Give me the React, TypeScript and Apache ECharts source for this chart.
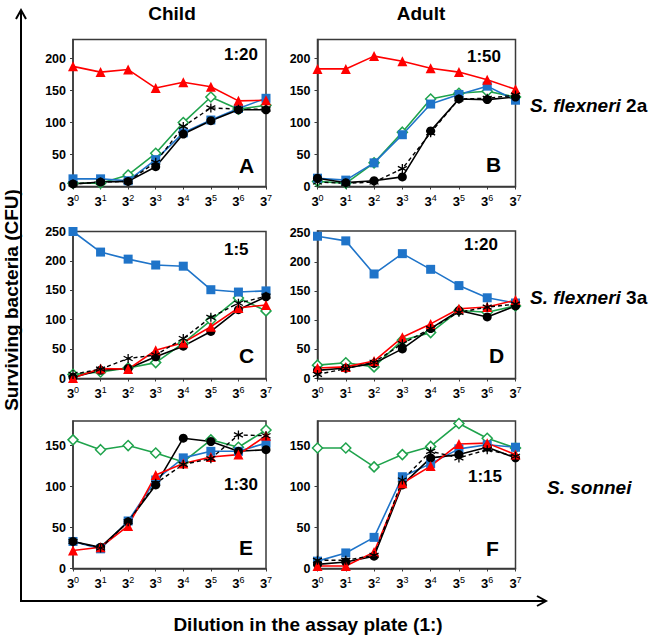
import React, { useEffect, useRef } from "react";
import * as echarts from "echarts";

// x categories: exponent of 3 (dilution 3^n)
const exponents = ["0", "1", "2", "3", "4", "5", "6", "7"];

// Panel A (Child, S. flexneri 2a, 1:20)
const A_red = [188, 179, 183, 154, 163, 156, 134, 135];
const A_blue = [12, 12, 9, 42, 84, 104, 122, 138];
const A_green = [5, 5, 18, 52, 100, 140, 121, 127];
const A_black = [4, 7, 8, 31, 82, 103, 120, 120];
const A_star = [4, 7, 8, 38, 94, 123, 121, 121];

// Panel B (Adult, S. flexneri 2a, 1:50)
const B_red = [184, 184, 204, 196, 185, 179, 167, 152];
const B_blue = [13, 10, 37, 81, 129, 144, 157, 135];
const B_green = [8, 5, 37, 85, 137, 146, 149, 140];
const B_black = [13, 6, 9, 15, 87, 137, 136, 140];
const B_star = [7, 5, 7, 28, 84, 137, 138, 143];

// Panel C (Child, S. flexneri 3a, 1:5)
const C_blue = [250, 215, 203, 193, 191, 151, 147, 149];
const C_red = [1, 17, 16, 48, 61, 88, 120, 125];
const C_black = [2, 14, 17, 37, 55, 80, 117, 139];
const C_green = [7, 11, 18, 27, 60, 99, 137, 115];
const C_star = [7, 16, 34, 40, 68, 104, 128, 140];

// Panel D (Adult, S. flexneri 3a, 1:20)
const D_blue = [245, 237, 180, 215, 188, 160, 139, 130];
const D_red = [18, 20, 30, 71, 94, 120, 123, 135];
const D_black = [14, 18, 26, 51, 86, 117, 106, 125];
const D_green = [23, 27, 20, 66, 79, 117, 114, 125];
const D_star = [7, 17, 28, 60, 86, 114, 123, 128];

// Panel E (Child, S. sonnei, 1:30)
const E_green = [157, 145, 150, 141, 130, 157, 148, 169];
const E_black = [33, 26, 57, 102, 159, 155, 143, 145];
const E_blue = [33, 24, 58, 108, 135, 143, 143, 153];
const E_red = [22, 26, 52, 114, 128, 136, 139, 162];
const E_star = [33, 25, 57, 104, 127, 134, 163, 162];

// Panel F (Adult, S. sonnei, 1:15)
const F_green = [147, 147, 124, 139, 149, 177, 159, 147];
const F_blue = [9, 19, 38, 112, 128, 146, 151, 148];
const F_red = [3, 3, 20, 104, 125, 152, 153, 139];
const F_black = [5, 8, 15, 102, 135, 139, 148, 135];
const F_star = [10, 10, 16, 108, 143, 135, 145, 137];

const yTicks = [0, 50, 100, 150, 200, 250];

const FONT = "'Liberation Sans', Arial, Helvetica, sans-serif";
const RED = "#ff0000";
const BLUE = "#1f74c9";
const GREEN = "#1fa34c";
const STAR = "path://M5,0 L5,10 M0.7,2.5 L9.3,7.5 M0.7,7.5 L9.3,2.5";

type Panel = {
  grid: { left: number; top: number; width: number; height: number };
  yMax: number;
  red: number[];
  blue: number[];
  green: number[];
  black: number[];
  star: number[];
  ratio: string;
  ratioPos: [number, number];
  letter: string;
  letterPos: [number, number];
};

const panels: Panel[] = [
  { grid: { left: 73, top: 39.5, width: 193, height: 147 }, yMax: 230, red: A_red, blue: A_blue, green: A_green, black: A_black, star: A_star, ratio: "1:20", ratioPos: [224, 54], letter: "A", letterPos: [239, 165] },
  { grid: { left: 317.5, top: 39.5, width: 198, height: 147 }, yMax: 230, red: B_red, blue: B_blue, green: B_green, black: B_black, star: B_star, ratio: "1:50", ratioPos: [467, 56], letter: "B", letterPos: [486, 164] },
  { grid: { left: 73, top: 231.5, width: 193, height: 147 }, yMax: 250, red: C_red, blue: C_blue, green: C_green, black: C_black, star: C_star, ratio: "1:5", ratioPos: [224, 249], letter: "C", letterPos: [239, 355] },
  { grid: { left: 317.5, top: 231, width: 198, height: 147.5 }, yMax: 254, red: D_red, blue: D_blue, green: D_green, black: D_black, star: D_star, ratio: "1:20", ratioPos: [464, 244], letter: "D", letterPos: [489, 355] },
  { grid: { left: 73, top: 421, width: 193, height: 147.5 }, yMax: 180, red: E_red, blue: E_blue, green: E_green, black: E_black, star: E_star, ratio: "1:30", ratioPos: [224, 484], letter: "E", letterPos: [239, 547] },
  { grid: { left: 317.5, top: 421, width: 198, height: 147.5 }, yMax: 180, red: F_red, blue: F_blue, green: F_green, black: F_black, star: F_star, ratio: "1:15", ratioPos: [468, 476], letter: "F", letterPos: [486, 548] },
];

const species = [
  { italic: "S. flexneri", rest: " 2a", x: 530, y: 105 },
  { italic: "S. flexneri", rest: " 3a", x: 530, y: 297 },
  { italic: "S. sonnei", rest: "", x: 547, y: 487 },
];

function buildOption() {
  const grids: any[] = [];
  const xAxes: any[] = [];
  const yAxes: any[] = [];
  const series: any[] = [];
  const graphics: any[] = [];

  panels.forEach((p, i) => {
    grids.push({
      ...p.grid,
      show: true,
      borderColor: "#3a3a3a",
      borderWidth: 1.5,
      backgroundColor: "transparent",
    });
    xAxes.push({
      type: "category",
      gridIndex: i,
      data: exponents,
      boundaryGap: false,
      axisLine: { show: true, lineStyle: { color: "#3a3a3a", width: 1.5 } },
      axisTick: { show: true, length: 3, interval: 0, lineStyle: { color: "#3a3a3a" } },
      splitLine: { show: false },
      axisLabel: {
        interval: 0,
        hideOverlap: false,
        margin: 7,
        formatter: (v: string) => `{b|3}{s|${v}}`,
        rich: {
          b: { fontFamily: FONT, fontWeight: "bold", fontSize: 13, color: "#000", lineHeight: 16 },
          s: { fontFamily: FONT, fontSize: 9, color: "#000", verticalAlign: "top", lineHeight: 10 },
        },
      },
    });
    yAxes.push({
      type: "value",
      gridIndex: i,
      min: 0,
      max: p.yMax,
      interval: 50,
      axisLine: { show: true, lineStyle: { color: "#3a3a3a", width: 1.5 } },
      axisTick: { show: true, length: 3, lineStyle: { color: "#3a3a3a" } },
      splitLine: { show: false },
      axisLabel: {
        margin: 7,
        showMaxLabel: yTicks.includes(p.yMax),
        fontFamily: FONT,
        fontWeight: "bold",
        fontSize: 12.5,
        color: "#000",
      },
    });

    const common = { xAxisIndex: i, yAxisIndex: i, type: "line", smooth: false };
    series.push({
      ...common,
      name: `green${i}`,
      data: p.green,
      symbol: "diamond",
      symbolSize: 10,
      lineStyle: { color: GREEN, width: 1.6 },
      itemStyle: { color: "#ffffff", borderColor: GREEN, borderWidth: 1.5 },
    });
    series.push({
      ...common,
      name: `blue${i}`,
      data: p.blue,
      symbol: "rect",
      symbolSize: 9,
      lineStyle: { color: BLUE, width: 1.6 },
      itemStyle: { color: BLUE },
    });
    series.push({
      ...common,
      name: `black${i}`,
      data: p.black,
      symbol: "circle",
      symbolSize: 9,
      lineStyle: { color: "#000", width: 1.6 },
      itemStyle: { color: "#000" },
    });
    series.push({
      ...common,
      name: `red${i}`,
      data: p.red,
      symbol: "triangle",
      symbolSize: 10,
      lineStyle: { color: RED, width: 1.6 },
      itemStyle: { color: RED },
    });
    series.push({
      ...common,
      name: `star${i}`,
      data: p.star,
      symbol: STAR,
      symbolSize: 9,
      lineStyle: { color: "#000", width: 1.4, type: [4, 3] },
      itemStyle: { color: "#000", borderColor: "#000", borderWidth: 1.3 },
    });

    graphics.push({
      type: "text",
      x: p.ratioPos[0],
      y: p.ratioPos[1],
      z: 10,
      style: {
        text: p.ratio,
        fontFamily: FONT,
        fontWeight: "bold",
        fontSize: 17,
        fill: "#000",
        verticalAlign: "middle",
        align: "left",
      },
    });
    graphics.push({
      type: "text",
      x: p.letterPos[0],
      y: p.letterPos[1],
      z: 10,
      style: {
        text: p.letter,
        fontFamily: FONT,
        fontWeight: "bold",
        fontSize: 21,
        fill: "#000",
        verticalAlign: "middle",
        align: "left",
      },
    });
  });

  // Column titles
  graphics.push({
    type: "text", x: 172, y: 13,
    style: { text: "Child", fontFamily: FONT, fontWeight: "bold", fontSize: 19, fill: "#000", align: "center", verticalAlign: "middle" },
  });
  graphics.push({
    type: "text", x: 421, y: 13,
    style: { text: "Adult", fontFamily: FONT, fontWeight: "bold", fontSize: 19, fill: "#000", align: "center", verticalAlign: "middle" },
  });

  // Species labels
  species.forEach((s) => {
    graphics.push({
      type: "text", x: s.x, y: s.y,
      style: {
        text: `{i|${s.italic}}{n|${s.rest}}`,
        verticalAlign: "middle",
        align: "left",
        rich: {
          i: { fontFamily: FONT, fontWeight: "bold", fontStyle: "italic", fontSize: 19, fill: "#000", color: "#000" } as any,
          n: { fontFamily: FONT, fontWeight: "bold", fontSize: 19, fill: "#000", color: "#000" } as any,
        },
      },
    });
  });

  // Axis titles
  graphics.push({
    type: "text", x: 11, y: 300, rotation: Math.PI / 2,
    style: { text: "Surviving bacteria (CFU)", fontFamily: FONT, fontWeight: "bold", fontSize: 19, fill: "#000", align: "center", verticalAlign: "middle" },
  });
  graphics.push({
    type: "text", x: 308, y: 624,
    style: { text: "Dilution in the assay plate (1:)", fontFamily: FONT, fontWeight: "bold", fontSize: 19, fill: "#000", align: "center", verticalAlign: "middle" },
  });

  // Arrows
  const arrowStyle = { stroke: "#000", lineWidth: 2, fill: "none" };
  graphics.push({ type: "line", shape: { x1: 21, y1: 601, x2: 21, y2: 11 }, style: arrowStyle });
  graphics.push({ type: "polyline", shape: { points: [[16, 19], [21, 10], [26, 19]] }, style: arrowStyle });
  graphics.push({ type: "line", shape: { x1: 20, y1: 601, x2: 546, y2: 601 }, style: arrowStyle });
  graphics.push({ type: "polyline", shape: { points: [[537, 596], [546, 601], [537, 606]] }, style: arrowStyle });

  return {
    animation: false,
    backgroundColor: "#ffffff",
    grid: grids,
    xAxis: xAxes,
    yAxis: yAxes,
    series,
    graphic: graphics,
  };
}

export default function App() {
  const ref = useRef<HTMLDivElement>(null);
  useEffect(() => {
    if (!ref.current) return;
    const chart = echarts.init(ref.current, undefined, { renderer: "svg" });
    chart.setOption(buildOption() as any);
    return () => {
      chart.dispose();
    };
  }, []);
  return (
    <div
      ref={ref}
      style={{ position: "absolute", left: 0, top: 0, width: 666, height: 638 }}
    />
  );
}
